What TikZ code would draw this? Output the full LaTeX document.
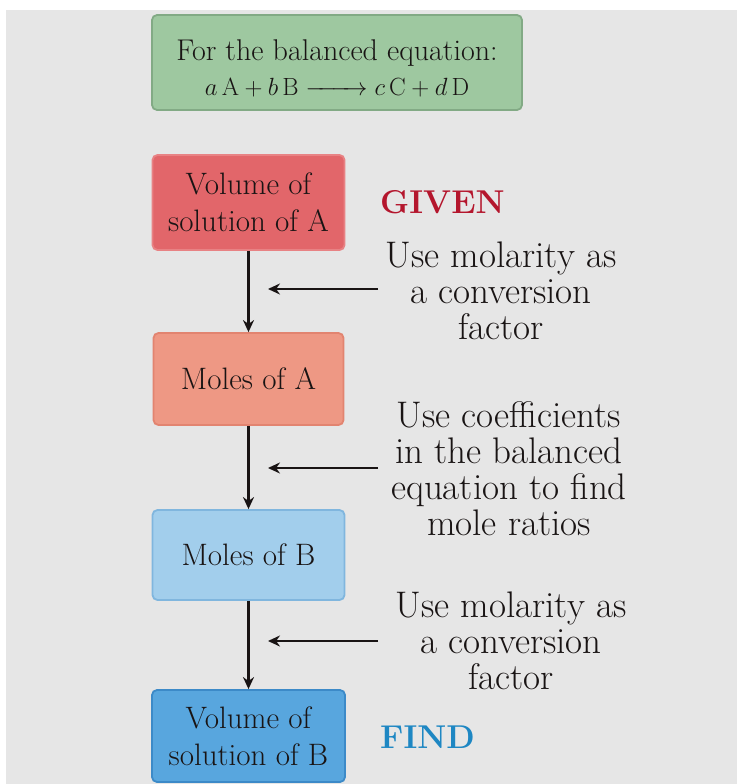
\documentclass[tikz,border=0pt]{standalone}
\usetikzlibrary{arrows.meta}
\definecolor{bggray}{RGB}{230,230,230}
\definecolor{gfill}{RGB}{158,200,160}
\definecolor{gline}{RGB}{130,170,133}
\definecolor{rfill}{RGB}{226,102,106}
\definecolor{rline}{RGB}{232,130,132}
\definecolor{sfill}{RGB}{238,152,132}
\definecolor{sline}{RGB}{226,132,112}
\definecolor{lbfill}{RGB}{162,206,236}
\definecolor{lbline}{RGB}{128,182,222}
\definecolor{bfill}{RGB}{88,166,222}
\definecolor{bline}{RGB}{60,138,200}
\definecolor{givenc}{RGB}{180,22,45}
\definecolor{findc}{RGB}{30,135,195}
\definecolor{inkc}{RGB}{25,20,20}
\tikzset{
  flowbox/.style={draw, line width=1.8pt, rounded corners=5pt, align=center, text=inkc,
    font=\fontsize{31}{37}\selectfont, inner sep=0pt},
  sidetext/.style={align=center, text=inkc, font=\fontsize{37}{36}\selectfont, inner sep=0pt},
  downarrow/.style={line width=2.6pt, -{Stealth[length=12pt,width=11pt]}, inkc},
  leftarrow/.style={line width=2.2pt, -{Stealth[length=12pt,width=11pt]}, inkc},
  tag/.style={font=\fontsize{33}{36}\selectfont\bfseries, inner sep=0pt}
}
\begin{document}
\begin{tikzpicture}[x=1pt,y=-1pt]
\fill[white] (0,0) rectangle (737,784);
\fill[bggray] (6,10) rectangle (737,784);
\useasboundingbox (0,0) rectangle (737,784);

\node[flowbox, fill=gfill, draw=gline, minimum width=370pt, minimum height=95pt] (eq) at (337,62.5) {};
\node[align=center, text=inkc, inner sep=0pt, font=\fontsize{30}{35}\selectfont] (eqtext) at (337,68)
  {For the balanced equation:\\ $a\,\mathrm{A}+b\,\mathrm{B}\mathrel{\hbox to 62pt{\rightarrowfill}}c\,\mathrm{C}+d\,\mathrm{D}$};

\node[flowbox, fill=rfill, draw=rline, minimum width=192pt, minimum height=95pt] (va) at (248.5,202.5)
  {Volume of\\ solution of A};
\node[flowbox, fill=sfill, draw=sline, minimum width=190pt, minimum height=92pt] (ma) at (248.5,379)
  {Moles of A};
\node[flowbox, fill=lbfill, draw=lbline, minimum width=192pt, minimum height=90pt] (mb) at (248.5,555)
  {Moles of B};
\node[flowbox, fill=bfill, draw=bline, minimum width=193pt, minimum height=92pt] (vb) at (248.5,736)
  {Volume of\\ solution of B};

\node[tag, text=givenc, anchor=west] (given) at (380,202) {GIVEN};
\node[tag, text=findc, anchor=west] (find) at (380,737) {FIND};

\node[sidetext] (t1) at (501,291) {Use molarity as\\ a conversion\\ factor};
\node[sidetext] (t2) at (509,469) {Use coefficients\\ in the balanced\\ equation to find\\ mole ratios};
\node[sidetext] (t3) at (511,641) {Use molarity as\\ a conversion\\ factor};

\draw[downarrow] (va.south) -- (ma.north);
\draw[downarrow] (ma.south) -- (mb.north);
\draw[downarrow] (mb.south) -- (vb.north);

\coordinate (a1s) at (378,289); \coordinate (a1e) at (268,289);
\coordinate (a2s) at (378,468); \coordinate (a2e) at (268,468);
\coordinate (a3s) at (378,641); \coordinate (a3e) at (268,641);
\draw[leftarrow] (a1s) -- (a1e);
\draw[leftarrow] (a2s) -- (a2e);
\draw[leftarrow] (a3s) -- (a3e);
\end{tikzpicture}
\end{document}
